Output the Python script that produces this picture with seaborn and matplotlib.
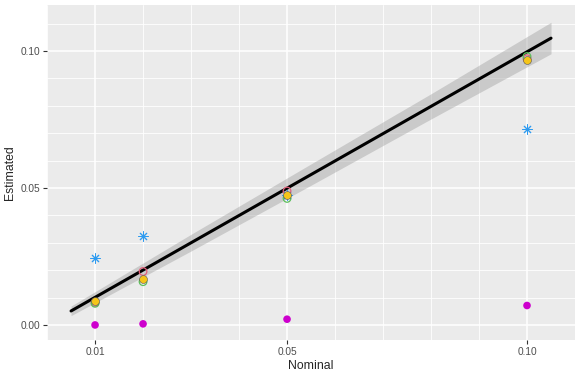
import seaborn as sns
import matplotlib.pyplot as plt
import pandas as pd
import numpy as np

# nominal levels and estimated rates per method
nominal = [0.01, 0.02, 0.05, 0.10]
est_magenta = [0.0000, 0.0004, 0.0021, 0.0071]
est_blue = [0.0246, 0.0325, 0.0475, 0.0715]
est_red = [0.0082, 0.0195, 0.0489, 0.0972]
est_green = [0.0079, 0.0158, 0.0462, 0.0980]
est_gold = [0.0089, 0.0169, 0.0474, 0.0967]

# smooth line with its confidence band
fit_x = [0.005, 0.030, 0.055, 0.080, 0.105]
fit_y = [0.0051, 0.0300, 0.0549, 0.0798, 0.1047]
fit_lo = [0.0034, 0.0270, 0.0510, 0.0752, 0.0990]
fit_hi = [0.0069, 0.0331, 0.0588, 0.0844, 0.1105]

x_breaks = [0.01, 0.05, 0.10]
x_labels = ['0.01', '0.05', '0.10']
y_breaks = [0.00, 0.05, 0.10]
y_labels = ['0.00', '0.05', '0.10']
minor_breaks = [0.01 * i for i in range(0, 12)]

sns.set_theme(style='darkgrid', rc={
    'axes.facecolor': '#EBEBEB',
    'grid.color': 'white',
    'axes.edgecolor': '#EBEBEB',
})
plt.rcParams['font.family'] = ['Liberation Sans', 'DejaVu Sans']

fig, ax = plt.subplots(figsize=(5.81, 3.77), dpi=100)
fig.subplots_adjust(left=0.081, right=0.9897, top=0.9867, bottom=0.0981)

fit = pd.DataFrame({'x': fit_x, 'y': fit_y, 'lo': fit_lo, 'hi': fit_hi})
ax.fill_between(fit['x'], fit['lo'], fit['hi'], color='#999999', alpha=0.4, lw=0, zorder=2)
sns.lineplot(data=fit, x='x', y='y', color='black', lw=2.2, ax=ax, zorder=3)

sns.scatterplot(x=nominal, y=est_magenta, color='#CD00CD', s=30, edgecolor='none', ax=ax, zorder=4)
sns.scatterplot(x=nominal, y=est_blue, color='#2E9BF0', marker=(8, 2, 0), s=45, linewidth=0.7, ax=ax, zorder=4)
ax.scatter(nominal, est_red, s=30, facecolor='none', edgecolor='#E0607A', lw=0.9, zorder=4)
ax.scatter(nominal, est_green, s=30, facecolor='none', edgecolor='#5CBF5A', lw=0.9, zorder=4)
sns.scatterplot(x=nominal, y=est_gold, color='#F5C518', s=32, edgecolor='#555555', linewidth=0.4, ax=ax, zorder=5)

ax.set_xlim(0.0, 0.11)
ax.set_ylim(-0.0055, 0.1168)
ax.set_xticks(x_breaks)
ax.set_xticklabels(x_labels)
ax.set_yticks(y_breaks)
ax.set_yticklabels(y_labels)
ax.set_xticks([b for b in minor_breaks if round(b, 2) not in x_breaks], minor=True)
ax.set_yticks([b for b in minor_breaks if round(b, 2) not in y_breaks], minor=True)
ax.grid(which='major', color='white', lw=1.1)
ax.grid(which='minor', color='white', lw=0.6)
ax.tick_params(which='major', length=3, width=0.8, color='#333333', labelsize=7.3,
               labelcolor='#4D4D4D', pad=2, bottom=True, left=True)
ax.tick_params(which='minor', length=0)
ax.set_xlabel('Nominal', fontsize=8.8, labelpad=2)
ax.set_ylabel('Estimated', fontsize=8.8, labelpad=3)
for s in ax.spines.values():
    s.set_visible(False)

fig.savefig('out.png', dpi=100)
